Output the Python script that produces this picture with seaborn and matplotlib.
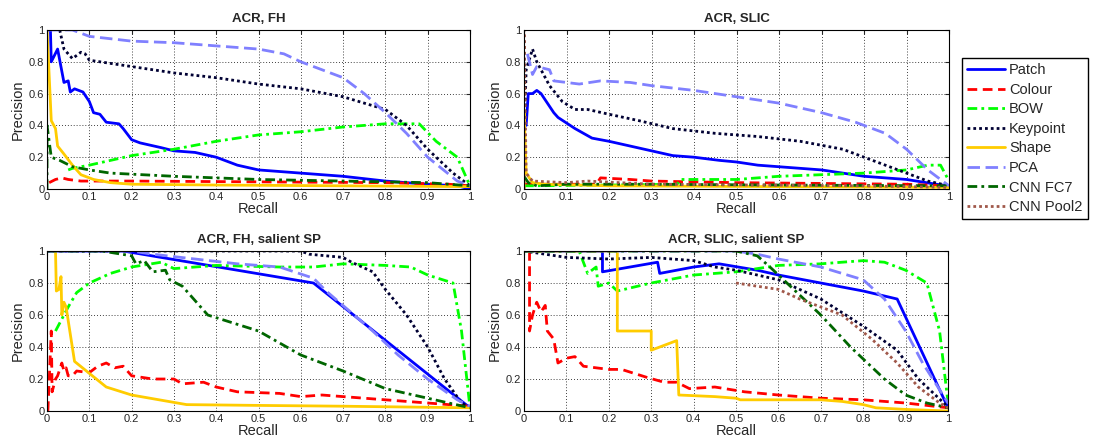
import numpy as np
import pandas as pd
import seaborn as sns
import matplotlib
matplotlib.use("Agg")
import matplotlib.pyplot as plt

sns.set_style("white")
plt.rcParams["font.family"] = ["Liberation Sans", "DejaVu Sans"]

# Methods, legend order
methods = ["Patch", "Colour", "BOW", "Keypoint", "Shape", "PCA", "CNN FC7", "CNN Pool2"]

# ---- ACR, FH : (recall, precision)
fh = {
    "Patch": ([0.0, 0.008, 0.01, 0.025, 0.04, 0.05, 0.055, 0.065, 0.085, 0.1, 0.11, 0.125, 0.14, 0.17, 0.18, 0.2,
               0.22, 0.27, 0.3, 0.35, 0.4, 0.45, 0.5, 0.6, 0.7, 0.8, 0.9, 0.97, 1.0],
              [1.0, 1.0, 0.8, 0.88, 0.67, 0.68, 0.61, 0.63, 0.61, 0.55, 0.48, 0.47, 0.42, 0.41, 0.38, 0.31,
               0.29, 0.26, 0.24, 0.23, 0.2, 0.15, 0.12, 0.1, 0.08, 0.05, 0.03, 0.02, 0.0]),
    "Colour": ([0.005, 0.02, 0.035, 0.05, 0.08, 0.2, 0.5, 0.8, 0.95, 1.0],
               [0.04, 0.06, 0.07, 0.06, 0.05, 0.05, 0.045, 0.04, 0.03, 0.02]),
    "BOW": ([0.05, 0.06, 0.1, 0.2, 0.3, 0.4, 0.5, 0.6, 0.7, 0.8, 0.88, 0.92, 0.97, 1.0],
            [0.12, 0.13, 0.15, 0.21, 0.25, 0.3, 0.34, 0.36, 0.39, 0.41, 0.41, 0.3, 0.2, 0.02]),
    "Keypoint": ([0.03, 0.04, 0.06, 0.08, 0.09, 0.1, 0.15, 0.2, 0.3, 0.4, 0.5, 0.6, 0.7, 0.8, 0.85, 0.9, 0.96, 1.0],
                 [1.0, 0.88, 0.82, 0.86, 0.85, 0.81, 0.79, 0.77, 0.73, 0.7, 0.66, 0.63, 0.58, 0.5, 0.4, 0.25, 0.1, 0.02]),
    "Shape": ([0.0, 0.01, 0.02, 0.025, 0.04, 0.06, 0.08, 0.11, 0.15, 0.2, 0.4, 0.7, 1.0],
              [1.0, 0.43, 0.38, 0.27, 0.22, 0.15, 0.09, 0.06, 0.04, 0.03, 0.025, 0.02, 0.015]),
    "PCA": ([0.0, 0.06, 0.1, 0.2, 0.3, 0.4, 0.5, 0.56, 0.6, 0.7, 0.75, 0.8, 0.85, 0.9, 0.97, 1.0],
            [1.0, 1.0, 0.96, 0.93, 0.92, 0.9, 0.88, 0.85, 0.8, 0.7, 0.6, 0.48, 0.35, 0.2, 0.05, 0.02]),
    "CNN FC7": ([0.0, 0.0, 0.01, 0.03, 0.06, 0.1, 0.15, 0.3, 0.5, 0.7, 0.9, 1.0],
                [0.0, 0.4, 0.2, 0.18, 0.14, 0.12, 0.1, 0.08, 0.06, 0.05, 0.04, 0.02]),
}

# ---- ACR, SLIC
slic = {
    "Patch": ([0.005, 0.01, 0.02, 0.03, 0.04, 0.07, 0.08, 0.12, 0.16, 0.2, 0.25, 0.3, 0.35, 0.4, 0.46, 0.5,
               0.55, 0.6, 0.7, 0.75, 0.8, 0.9, 0.97, 1.0],
              [0.4, 0.6, 0.6, 0.62, 0.6, 0.48, 0.45, 0.38, 0.32, 0.3, 0.27, 0.24, 0.21, 0.2, 0.18, 0.17,
               0.15, 0.14, 0.12, 0.1, 0.08, 0.06, 0.03, 0.02]),
    "Colour": ([0.0, 0.1, 0.17, 0.18, 0.25, 0.3, 0.5, 0.7, 0.9, 1.0],
               [0.03, 0.03, 0.03, 0.07, 0.06, 0.05, 0.04, 0.035, 0.03, 0.02]),
    "BOW": ([0.0, 0.2, 0.36, 0.37, 0.5, 0.6, 0.7, 0.8, 0.9, 0.95, 0.98, 1.0],
            [0.02, 0.025, 0.03, 0.06, 0.06, 0.08, 0.09, 0.1, 0.12, 0.15, 0.15, 0.05]),
    "Keypoint": ([0.0, 0.005, 0.02, 0.03, 0.06, 0.09, 0.12, 0.15, 0.2, 0.27, 0.35, 0.45, 0.55, 0.65, 0.75,
                  0.8, 0.85, 0.9, 0.95, 1.0],
                 [0.3, 0.75, 0.88, 0.8, 0.65, 0.55, 0.5, 0.5, 0.47, 0.43, 0.38, 0.35, 0.33, 0.3, 0.25,
                  0.2, 0.15, 0.1, 0.05, 0.02]),
    "Shape": ([0.0, 0.0, 0.005, 0.02, 0.05, 0.2, 1.0],
              [0.0, 0.5, 0.1, 0.04, 0.03, 0.02, 0.01]),
    "PCA": ([0.008, 0.02, 0.03, 0.06, 0.07, 0.1, 0.13, 0.18, 0.25, 0.3, 0.4, 0.5, 0.6, 0.7, 0.78, 0.85,
             0.9, 0.95, 1.0],
            [0.85, 0.72, 0.77, 0.75, 0.68, 0.67, 0.66, 0.68, 0.67, 0.65, 0.62, 0.58, 0.54, 0.48, 0.42, 0.35,
             0.25, 0.12, 0.02]),
    "CNN FC7": ([0.0, 0.01, 0.03, 0.1, 0.3, 0.6, 1.0],
                [0.08, 0.04, 0.02, 0.03, 0.03, 0.025, 0.02]),
    "CNN Pool2": ([0.0, 0.0, 0.005, 0.02, 0.1, 0.15, 0.3, 0.8, 1.0],
                  [0.0, 1.0, 0.1, 0.05, 0.04, 0.05, 0.03, 0.02, 0.01]),
}

# ---- ACR, FH, salient SP
fh_sal = {
    "Patch": ([0.0, 0.18, 0.63, 1.0], [1.0, 1.0, 0.8, 0.02]),
    "Colour": ([0.002, 0.01, 0.012, 0.015, 0.02, 0.025, 0.035, 0.04, 0.045, 0.05, 0.06, 0.07, 0.1, 0.12,
                0.14, 0.16, 0.18, 0.19, 0.2, 0.25, 0.3, 0.32, 0.37, 0.4, 0.45, 0.55, 0.6, 0.65, 0.7,
                0.8, 0.9, 1.0],
               [0.0, 0.5, 0.12, 0.15, 0.2, 0.22, 0.3, 0.25, 0.27, 0.22, 0.22, 0.25, 0.24, 0.28,
                0.3, 0.27, 0.28, 0.25, 0.22, 0.2, 0.2, 0.17, 0.18, 0.15, 0.12, 0.11, 0.09, 0.1, 0.09,
                0.07, 0.05, 0.03]),
    "BOW": ([0.02, 0.03, 0.05, 0.07, 0.1, 0.15, 0.2, 0.27, 0.3, 0.4, 0.55, 0.63, 0.7, 0.8, 0.86, 0.9,
             0.96, 0.98, 1.0],
            [0.5, 0.55, 0.65, 0.74, 0.8, 0.86, 0.9, 0.93, 0.89, 0.91, 0.9, 0.9, 0.92, 0.91, 0.9, 0.85,
             0.8, 0.5, 0.02]),
    "Keypoint": ([0.0, 0.6, 0.62, 0.7, 0.72, 0.77, 0.8, 0.85, 0.9, 0.94, 0.98, 1.0],
                 [1.0, 1.0, 0.98, 0.96, 0.93, 0.87, 0.76, 0.6, 0.4, 0.2, 0.05, 0.02]),
    "Shape": ([0.015, 0.02, 0.022, 0.028, 0.033, 0.035, 0.04, 0.045, 0.065, 0.14, 0.2, 0.33, 0.5, 0.7, 1.0],
              [1.0, 1.0, 0.75, 0.76, 0.84, 0.6, 0.68, 0.65, 0.31, 0.15, 0.1, 0.04, 0.035, 0.03, 0.02]),
    "PCA": ([0.0, 0.2, 0.25, 0.35, 0.45, 0.55, 0.63, 0.66, 0.77, 0.83, 0.9, 0.97, 1.0],
            [1.0, 1.0, 0.98, 0.95, 0.92, 0.9, 0.83, 0.75, 0.5, 0.35, 0.2, 0.07, 0.03]),
    "CNN FC7": ([0.0, 0.13, 0.2, 0.21, 0.23, 0.25, 0.28, 0.29, 0.32, 0.38, 0.5, 0.6, 0.7, 0.8, 0.9, 1.0],
                [1.0, 1.0, 0.97, 0.92, 0.94, 0.87, 0.88, 0.82, 0.78, 0.6, 0.5, 0.35, 0.25, 0.14, 0.08, 0.02]),
}

# ---- ACR, SLIC, salient SP
slic_sal = {
    "Patch": ([0.0, 0.185, 0.185, 0.25, 0.315, 0.32, 0.4, 0.46, 0.55, 0.6, 0.7, 0.8, 0.88, 1.0],
              [1.0, 1.0, 0.87, 0.9, 0.93, 0.86, 0.9, 0.92, 0.88, 0.85, 0.8, 0.75, 0.7, 0.02]),
    "Colour": ([0.013, 0.013, 0.02, 0.03, 0.04, 0.05, 0.055, 0.07, 0.08, 0.1, 0.12, 0.14, 0.2, 0.23, 0.29,
                0.33, 0.36, 0.39, 0.45, 0.52, 0.6, 0.7, 0.8, 0.9, 1.0],
               [1.0, 0.5, 0.6, 0.68, 0.62, 0.66, 0.5, 0.45, 0.3, 0.33, 0.34, 0.28, 0.26, 0.26, 0.21,
                0.18, 0.18, 0.14, 0.15, 0.12, 0.1, 0.08, 0.07, 0.05, 0.02]),
    "BOW": ([0.0, 0.13, 0.15, 0.17, 0.175, 0.2, 0.22, 0.3, 0.4, 0.5, 0.6, 0.7, 0.8, 0.85, 0.9, 0.95, 0.98, 1.0],
            [1.0, 1.0, 0.86, 0.9, 0.78, 0.8, 0.75, 0.8, 0.85, 0.87, 0.91, 0.92, 0.94, 0.93, 0.88, 0.8, 0.5, 0.05]),
    "Keypoint": ([0.0, 0.05, 0.1, 0.2, 0.3, 0.4, 0.45, 0.5, 0.6, 0.7, 0.8, 0.88, 0.93, 0.99, 1.0],
                 [1.0, 0.98, 0.96, 0.95, 0.96, 0.94, 0.9, 0.88, 0.82, 0.7, 0.53, 0.38, 0.2, 0.05, 0.02]),
    "Shape": ([0.0, 0.22, 0.22, 0.3, 0.3, 0.36, 0.365, 0.45, 0.5, 0.51, 0.7, 0.75, 0.8, 0.83, 0.9, 1.0],
              [1.0, 1.0, 0.5, 0.5, 0.38, 0.44, 0.1, 0.09, 0.08, 0.07, 0.07, 0.06, 0.04, 0.02, 0.01, 0.0]),
    "PCA": ([0.0, 0.5, 0.55, 0.6, 0.7, 0.8, 0.85, 0.9, 0.94, 1.0],
            [1.0, 1.0, 0.98, 0.95, 0.9, 0.82, 0.7, 0.5, 0.3, 0.05]),
    "CNN FC7": ([0.0, 0.5, 0.55, 0.58, 0.62, 0.7, 0.77, 0.85, 0.9, 0.95, 1.0],
                [1.0, 1.0, 0.97, 0.9, 0.8, 0.6, 0.4, 0.2, 0.1, 0.05, 0.02]),
    "CNN Pool2": ([0.5, 0.6, 0.65, 0.75, 0.82, 0.88, 0.93, 0.98, 1.0],
                  [0.8, 0.76, 0.7, 0.6, 0.45, 0.3, 0.15, 0.05, 0.02]),
}

panels = [("ACR, FH", fh), ("ACR, SLIC", slic), ("ACR, FH, salient SP", fh_sal), ("ACR, SLIC, salient SP", slic_sal)]

colors = {"Patch": "#0000ff", "Colour": "#ff0000", "BOW": "#00ff00", "Keypoint": "#000033",
          "Shape": "#ffcc00", "PCA": "#8080ff", "CNN FC7": "#006600", "CNN Pool2": "#a0584a"}
styles = {"Patch": "-", "Colour": (0, (3.5, 2)), "BOW": (0, (3.5, 1.5, 1, 1.5)), "Keypoint": (0, (1, 1.1)),
          "Shape": "-", "PCA": (0, (4.5, 2)), "CNN FC7": (0, (3.5, 1.5, 1, 1.5)), "CNN Pool2": (0, (1, 1.1))}

fig = plt.figure(figsize=(10.94, 4.41), dpi=100)
boxes = [[0.043, 0.5714, 0.3866, 0.3606], [0.479, 0.5714, 0.3885, 0.3606],
         [0.043, 0.068, 0.3866, 0.3628], [0.479, 0.068, 0.3876, 0.3628]]

handles = {}
for (title, data), box in zip(panels, boxes):
    ax = fig.add_axes(box)
    for m in methods:
        if m not in data:
            continue
        r, p = data[m]
        df = pd.DataFrame({"Recall": r, "Precision": p})
        sns.lineplot(data=df, x="Recall", y="Precision", ax=ax, sort=False, estimator=None,
                     color=colors[m], linestyle=styles[m], linewidth=2.0, label=m)
    leg = ax.get_legend()
    if leg is not None:
        leg.remove()
    for line in ax.get_lines():
        handles.setdefault(line.get_label(), line)
    ax.set_xlim(0, 1)
    ax.set_ylim(0, 1)
    ax.set_xticks(np.arange(0, 1.01, 0.1))
    ax.set_xticklabels(["0", "0.1", "0.2", "0.3", "0.4", "0.5", "0.6", "0.7", "0.8", "0.9", "1"])
    ax.set_yticks(np.arange(0, 1.01, 0.2))
    ax.set_yticklabels(["0", "0.2", "0.4", "0.6", "0.8", "1"])
    ax.tick_params(direction="in", length=3, labelsize=8, pad=2, top=True, right=True)
    ax.grid(True, color="black", linestyle=(0, (1, 2.5)), linewidth=0.6)
    for s in ax.spines.values():
        s.set_color("black")
        s.set_linewidth(0.8)
    ax.set_title(title, fontsize=9.5, fontweight="bold", pad=6)
    ax.set_xlabel("Recall", fontsize=10.5, labelpad=0)
    ax.set_ylabel("Precision", fontsize=10.5, labelpad=3)

fig.legend([handles[m] for m in methods], methods, loc="upper left", bbox_to_anchor=(0.879, 0.868),
           fancybox=False, edgecolor="black", framealpha=1, fontsize=10.5, handlelength=2.6,
           borderpad=0.35, labelspacing=0.38, handletextpad=0.3, borderaxespad=0)

fig.savefig("out.png", dpi=100)
